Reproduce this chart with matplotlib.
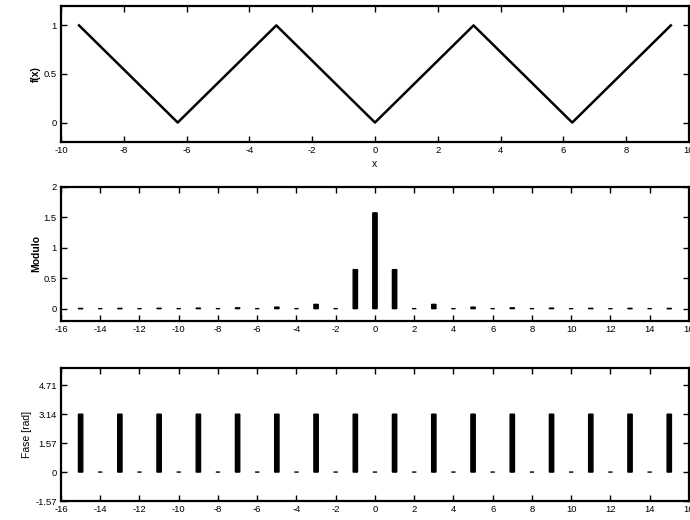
import numpy as np
import matplotlib.pyplot as plt

# triangle wave vertices (x in multiples of pi)
X_VERTS = [-3 * np.pi, -2 * np.pi, -np.pi, 0.0, np.pi, 2 * np.pi, 3 * np.pi]
F_VERTS = [1, 0, 1, 0, 1, 0, 1]

# harmonic index k = -15..15
K = list(range(-15, 16))
# magnitude |c_k|
MODULO = [0.003, 0, 0.004, 0, 0.005, 0, 0.008, 0, 0.013, 0, 0.025, 0, 0.07, 0, 0.64,
          1.57,
          0.64, 0, 0.07, 0, 0.025, 0, 0.013, 0, 0.008, 0, 0.005, 0, 0.004, 0, 0.003]
# phase in rad (odd harmonics at pi, even at 0)
FASE = [3.14, 0, 3.14, 0, 3.14, 0, 3.14, 0, 3.14, 0, 3.14, 0, 3.14, 0, 3.14,
        0,
        3.14, 0, 3.14, 0, 3.14, 0, 3.14, 0, 3.14, 0, 3.14, 0, 3.14, 0, 3.14]

plt.rcParams["font.family"] = ["Liberation Sans", "DejaVu Sans"]
plt.rcParams["axes.unicode_minus"] = False

fig = plt.figure(figsize=(6.9, 5.2), dpi=100)
ax1 = fig.add_axes([0.0884, 0.727, 0.910, 0.2615])
ax2 = fig.add_axes([0.0884, 0.383, 0.910, 0.258])
ax3 = fig.add_axes([0.0884, 0.0365, 0.910, 0.256])


def style(ax):
    for s in ax.spines.values():
        s.set_linewidth(1.6)
    ax.tick_params(direction="in", top=True, right=True, length=4, width=1,
                   labelsize=6.8, pad=3)


ax1.plot(X_VERTS, F_VERTS, color="black", lw=1.8)
ax1.set_xlim(-10, 10)
ax1.set_ylim(-0.2, 1.2)
ax1.set_xticks(range(-10, 11, 2))
ax1.set_yticks([0, 0.5, 1])
ax1.set_yticklabels(["0", "0.5", "1"])
ax1.set_xlabel("x", fontsize=7.5, labelpad=3)
ax1.set_ylabel("f(x)", fontsize=7.5, fontweight="bold", labelpad=2)
style(ax1)

ax2.bar(K, MODULO, width=0.22, color="black", edgecolor="black", linewidth=1.0,
        snap=False)
ax2.set_xlim(-16, 16)
ax2.set_ylim(-0.2, 2)
ax2.set_xticks(range(-16, 17, 2))
ax2.set_yticks([0, 0.5, 1, 1.5, 2])
ax2.set_yticklabels(["0", "0.5", "1", "1.5", "2"])
ax2.set_ylabel("Modulo", fontsize=7.5, fontweight="bold", labelpad=2)
style(ax2)

ax3.bar(K, FASE, width=0.22, color="black", edgecolor="black", linewidth=1.0,
        snap=False)
ax3.set_xlim(-16, 16)
ax3.set_ylim(-1.57, 5.65)
ax3.set_xticks(range(-16, 17, 2))
ax3.set_yticks([-1.57, 0, 1.57, 3.14, 4.71])
ax3.set_yticklabels(["-1.57", "0", "1.57", "3.14", "4.71"])
ax3.set_ylabel("Fase [rad]", fontsize=7.5, labelpad=2)
style(ax3)

fig.savefig("out.png", dpi=100)
